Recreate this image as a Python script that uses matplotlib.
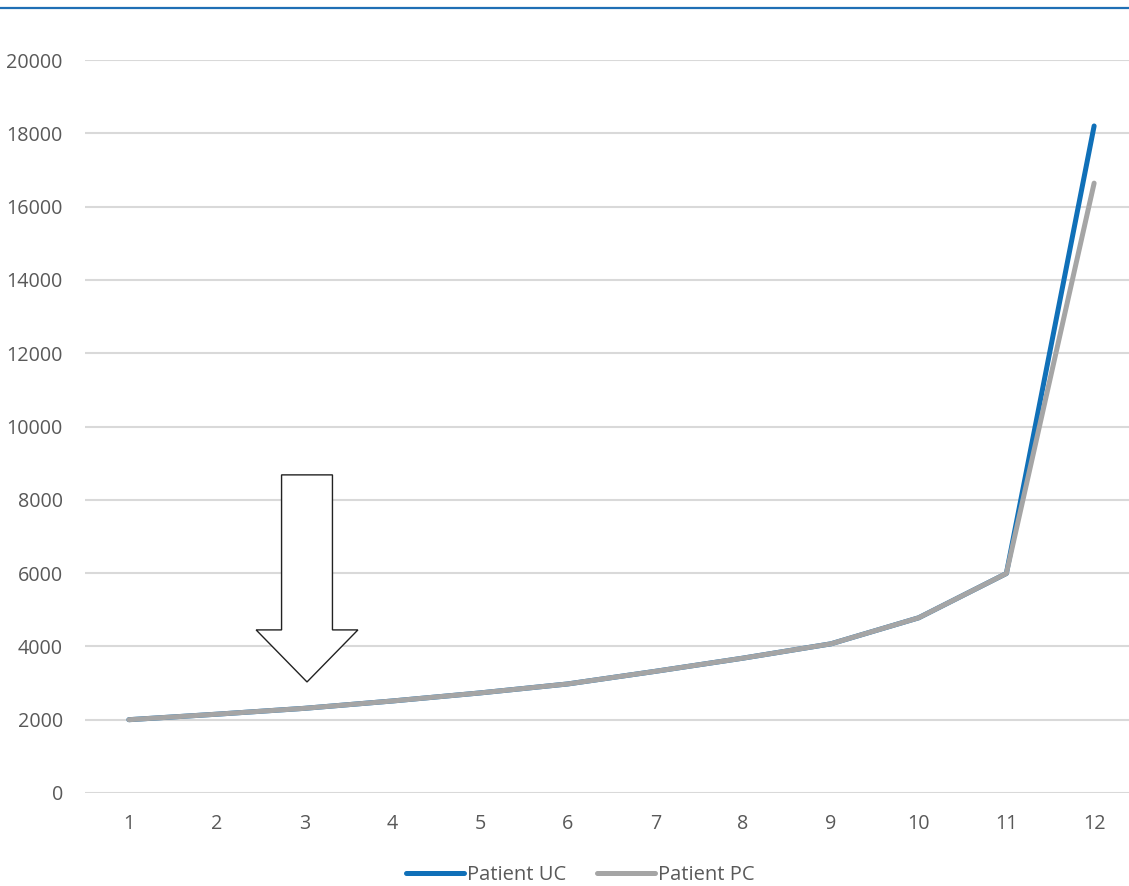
import matplotlib.pyplot as plt
import matplotlib.patches as mpatches
from matplotlib.lines import Line2D

plt.rcParams['font.family'] = ['Open Sans', 'DejaVu Sans']

cycles = list(range(1, 13))
patient_uc = [2000, 2150, 2310, 2510, 2730, 2975, 3320, 3680, 4070, 4780, 5990, 18200]
patient_pc = [2000, 2150, 2310, 2510, 2730, 2975, 3320, 3680, 4070, 4780, 5990, 16640]

# hollow arrow marking cycle 3
arrow_x = 3.03
arrow_top = 8680
arrow_tip = 3030

fig = plt.figure(figsize=(11.29, 8.86), dpi=100)
ax = fig.add_axes([85 / 1129, 1 - 793 / 886, 1053 / 1129, 733 / 886])

ax.plot(cycles, patient_uc, color='#1070b8', lw=3.6, solid_capstyle='round',
        label='Patient UC', zorder=3)
ax.plot(cycles, patient_pc, color='#a5a5a5', lw=3.6, solid_capstyle='round',
        label='Patient PC', zorder=4)

arrow = mpatches.FancyArrow(arrow_x, arrow_top, 0, arrow_tip - arrow_top,
                            width=0.58, head_width=1.16, head_length=1420,
                            length_includes_head=True, facecolor='white',
                            edgecolor='#222222', lw=1.0, zorder=5)
ax.add_patch(arrow)

ax.set_xlim(0.5, 12.5)
ax.set_ylim(0, 20000)
ax.set_xticks(cycles)
ax.set_yticks(range(0, 20001, 2000))
ax.grid(axis='y', color='#d9d9d9', lw=1.5)
ax.set_axisbelow(True)
for s in ax.spines.values():
    s.set_visible(False)
ax.tick_params(axis='both', length=0, labelsize=14.2, labelcolor='#595959')
ax.tick_params(axis='y', pad=16)
ax.tick_params(axis='x', pad=15)

# thin blue rule across the top
fig.add_artist(Line2D([0, 1], [1 - 8 / 886, 1 - 8 / 886], transform=fig.transFigure,
                      color='#1f6fb5', lw=1.6))

fig.legend(loc='center', bbox_to_anchor=(0.514, 0.0125), ncol=2, frameon=False,
           fontsize=14.5, labelcolor='#595959', handlelength=2.9,
           handletextpad=0.15, columnspacing=1.5, borderpad=0.1)

fig.savefig('out.png', dpi=100)
